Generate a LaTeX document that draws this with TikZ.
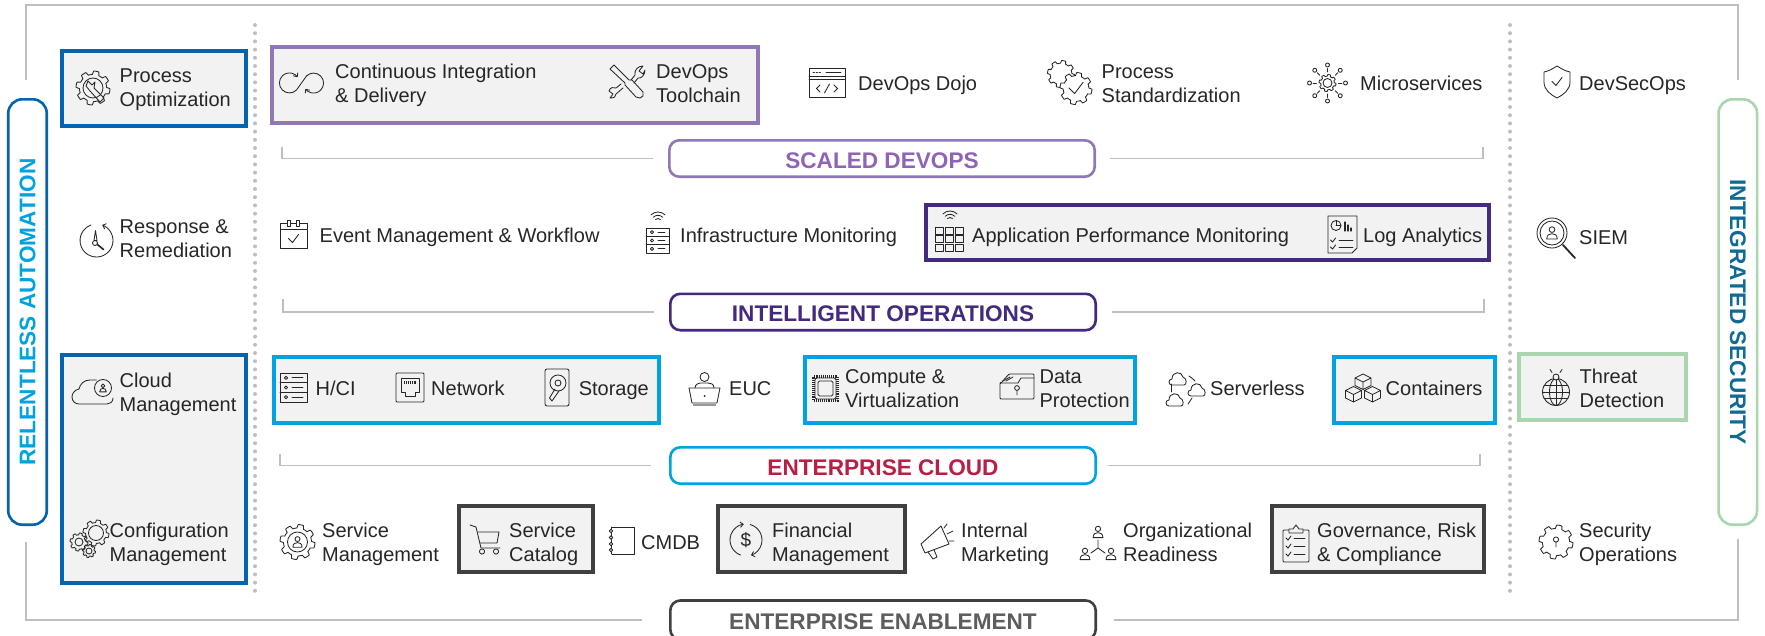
\documentclass[tikz,border=0pt]{standalone}
\usepackage{fontspec}
\setmainfont{Liberation Sans}
\usetikzlibrary{arrows.meta}
\definecolor{txt}{HTML}{262626}
\definecolor{cblue}{HTML}{0563AF}
\definecolor{ccyan}{HTML}{00A3E0}
\definecolor{cpurp}{HTML}{8F78B5}
\definecolor{cindi}{HTML}{432A7F}
\definecolor{cgreen}{HTML}{A9D5AF}
\definecolor{cdark}{HTML}{404040}
\definecolor{cgray}{HTML}{BFBFBF}
\definecolor{cbg}{HTML}{F2F2F2}
\definecolor{cred}{HTML}{B81F45}
\definecolor{cteal}{HTML}{0F6B94}
\definecolor{cpt}{HTML}{8F63B8}
\newcommand\st{\rule[-4.8pt]{0pt}{24pt}}
\tikzset{
 ic/.style={draw=txt,line width=.85pt,line join=round,line cap=round},
 ictip/.style={-{Straight Barb[length=3pt,width=5.5pt]}},
 lbl/.style={anchor=west,align=left,inner sep=0pt,text=txt,font=\fontsize{20}{24}\selectfont},
 gbox/.style={draw,line width=4pt,fill=cbg,inner sep=0pt},
 hpill/.style={draw,line width=2.6pt,rounded corners=10pt,fill=white,inner sep=0pt,minimum width=425.4pt,minimum height=36.4pt,text height=19pt,text depth=0pt,font=\fontsize{22.6}{26}\selectfont\bfseries},
 vpill/.style={draw,line width=2.6pt,rounded corners=14pt,fill=white,inner sep=0pt,minimum width=425.4pt,minimum height=38.5pt,font=\fontsize{22.6}{26}\selectfont\bfseries},
 framel/.style={draw=cgray,line width=2.2pt},
 dots/.style={draw=cgray,line width=4pt,line cap=round,dash pattern=on 0pt off 8.2pt}
}
\newcommand\gboxn[6]{\node[gbox,draw=#2,minimum width={#5-#3-4},minimum height={#6-#4-4}] (#1) at ({(#3+#5)/2},{(#4+#6)/2}) {};}
% gear outline: [style] cx cy r
\newcommand\gearic[4][]{\draw[ic,#1] plot[smooth,domain=0:360,samples=145,variable=\t] ({#2+#4*(.8+.2*min(1,max(0,1.6*sin(8*\t)+.5)))*cos(\t)},{#3+#4*(.8+.2*min(1,max(0,1.6*sin(8*\t)+.5)))*sin(\t)}) -- cycle;}
% person: cx cy s
\newcommand\persic[3]{\draw[ic] (#1,{#2-.45*#3}) circle[radius={.38*#3}];
 \draw[ic] ({#1-.7*#3},{#2+.8*#3}) .. controls ({#1-.7*#3},{#2+.2*#3}) and ({#1-.3*#3},{#2+.1*#3}) .. (#1,{#2+.1*#3}) .. controls ({#1+.3*#3},{#2+.1*#3}) and ({#1+.7*#3},{#2+.2*#3}) .. ({#1+.7*#3},{#2+.8*#3}) -- cycle;}
% server stack: x1 y1 x2 y2
\newcommand\srvic[4]{\draw[ic] (#1,#2) rectangle (#3,#4);
 \foreach \k in {0,1,2}{
  \pgfmathsetmacro\ya{#2+(#4-#2)*\k/3}\pgfmathsetmacro\ym{#2+(#4-#2)*(\k+.5)/3}
  \ifnum\k>0 \draw[ic] (#1,\ya) -- (#3,\ya);\fi
  \draw[ic] ({#1+6},\ym) circle[radius=1.6];
  \draw[ic] ({#1+12},\ym) -- ({#3-4},\ym);}}
% wifi: cx cy (base point)
\newcommand\wifiic[2]{\foreach \r in {3.5,6.7,10}{\draw[ic] ({#1+\r*cos(225)},{#2+\r*sin(225)}) arc[start angle=225,end angle=315,radius=\r];}}
\newcommand\cloudic[2]{\draw[ic] ({#1-6},{#2+6}) .. controls ({#1-10},{#2+6}) and ({#1-10},{#2}) .. ({#1-6},{#2}) .. controls ({#1-6},{#2-8}) and ({#1+4},{#2-8}) .. ({#1+5},{#2-2}) .. controls ({#1+9},{#2-1}) and ({#1+9},{#2+6}) .. ({#1+6},{#2+6}) -- cycle;}
\newcommand\cubeic[2]{\begin{scope}[shift={(#1,#2)}]\draw[ic] (0,-7.5) -- (8,-3.5) -- (8,4) -- (0,8) -- (-8,4) -- (-8,-3.5) -- cycle (-8,-3.5) -- (0,.5) -- (8,-3.5) (0,.5) -- (0,8);\end{scope}}
\newcommand\chkic[3]{\draw[ic] ({#1-#3},#2) -- ({#1-.2*#3},{#2+.8*#3}) -- ({#1+#3},{#2-.8*#3});}
\begin{document}
\begin{tikzpicture}[x=1pt,y=-1pt]
\useasboundingbox (0,0) rectangle (1765,635);
% coordinates for frame and dotted separators
\coordinate (ftl) at (26,80); \coordinate (ftr) at (1738,80);
\coordinate (ftop) at (26,4.7);
\coordinate (fbl) at (26,542); \coordinate (fbr) at (1738,539);
\coordinate (dl1) at (255,25); \coordinate (dl2) at (255,597);
\coordinate (dr1) at (1510,25); \coordinate (dr2) at (1510,597);
\draw[dots] (dl1) -- (dl2);
\draw[dots] (dr1) -- (dr2);
% grey boxes
\gboxn{bproc}{cblue}{60}{49}{248}{128}
\gboxn{bci}{cpurp}{270}{45}{760}{125}
\gboxn{bapm}{cindi}{924}{203}{1491}{262}
\gboxn{bhci}{ccyan}{272}{355}{661}{425}
\gboxn{bcloud}{cblue}{60}{353}{248}{585}
\gboxn{bcomp}{ccyan}{803}{355}{1137}{425}
\gboxn{bcont}{ccyan}{1332}{355}{1497}{425}
\gboxn{bthreat}{cgreen}{1517}{352}{1688}{422}
\gboxn{bcat}{cdark}{457}{504}{594.5}{574}
\gboxn{bfin}{cdark}{716}{504}{907}{574}
\gboxn{bgov}{cdark}{1270}{504}{1486}{574}
% pills
\node[hpill,draw=cpurp,text=cpt] (scaled) at (882,158.5) {SCALED DEVOPS};
\node[hpill,draw=cindi,text=cindi] (intel) at (883,312) {INTELLIGENT OPERATIONS};
\node[hpill,draw=ccyan,text=cred] (ecloud) at (883,465.5) {ENTERPRISE CLOUD};
\node[hpill,draw=cdark,text=cdark!85,minimum height=39pt] (enable) at (883,620) {ENTERPRISE ENABLEMENT};
\node[vpill,draw=cblue,text=ccyan,rotate=90] (relent) at (27.5,312) {RELENTLESS AUTOMATION};
\node[vpill,draw=cgreen,text=cteal,rotate=-90] (integ) at (1737.8,312) {INTEGRATED SECURITY};
% frame
\draw[framel] (ftl) |- (ftop -| ftr) -- (ftr);
\draw[framel] ([xshift=-27]enable.west) -| (fbl);
\draw[framel] ([xshift=17]enable.east) -| (fbr);
% brackets
\coordinate (b1l) at (281.6,147); \coordinate (b1r) at (1483,147);
\coordinate (b2l) at (283,299); \coordinate (b2r) at (1484,299);
\coordinate (b3l) at (280,454); \coordinate (b3r) at (1480,454);
\draw[framel,line width=1.8pt] ([xshift=-15]scaled.west) -| (b1l);
\draw[framel,line width=1.8pt] ([xshift=14]scaled.east) -| (b1r);
\draw[framel,line width=1.8pt] ([xshift=-15]intel.west) -| (b2l);
\draw[framel,line width=1.8pt] ([xshift=15]intel.east) -| (b2r);
\draw[framel,line width=1.8pt] ([xshift=-18]ecloud.west) -| (b3l);
\draw[framel,line width=1.8pt] ([xshift=11]ecloud.east) -| (b3r);
% labels
\node[lbl] (t1) at (119.5,87) {\st Process\\\st Optimization};
\node[lbl] (t2) at (335,83) {\st Continuous Integration\\\st \& Delivery};
\node[lbl] (t3) at (656,83) {\st DevOps\\\st Toolchain};
\node[lbl] (t4) at (858,83) {\st DevOps Dojo};
\node[lbl] (t5) at (1101.5,83) {\st Process\\\st Standardization};
\node[lbl] (t6) at (1360,83) {\st Microservices};
\node[lbl] (t7) at (1579,83) {\st DevSecOps};
\node[lbl] (t8) at (119.5,238) {\st Response \&\\\st Remediation};
\node[lbl] (t9) at (319.5,235) {\st Event Management \& Workflow};
\node[lbl] (t10) at (680,235) {\st Infrastructure Monitoring};
\node[lbl] (t11) at (972,235) {\st Application Performance Monitoring};
\node[lbl] (t12) at (1363,235) {\st Log Analytics};
\node[lbl] (t13) at (1579,237) {\st SIEM};
\node[lbl] (t14) at (119.5,392) {\st Cloud\\\st Management};
\node[lbl] (t15) at (315.5,388) {\st H/CI};
\node[lbl] (t16) at (431,388) {\st Network};
\node[lbl] (t17) at (578.6,388) {\st Storage};
\node[lbl] (t18) at (729,388) {\st EUC};
\node[lbl] (t19) at (845,388) {\st Compute \&\\\st Virtualization};
\node[lbl] (t20) at (1039.4,388) {\st Data\\\st Protection};
\node[lbl] (t21) at (1210,388) {\st Serverless};
\node[lbl] (t22) at (1385.5,388) {\st Containers};
\node[lbl] (t23) at (1579.5,388) {\st Threat\\\st Detection};
\node[lbl] (t24) at (109.5,542) {\st Configuration\\\st Management};
\node[lbl] (t25) at (322,542) {\st Service\\\st Management};
\node[lbl] (t26) at (509,542) {\st Service\\\st Catalog};
\node[lbl] (t27) at (641,542) {\st CMDB};
\node[lbl] (t28) at (772,542) {\st Financial\\\st Management};
\node[lbl] (t29) at (961,542) {\st Internal\\\st Marketing};
\node[lbl] (t30) at (1123,542) {\st Organizational\\\st Readiness};
\node[lbl] (t31) at (1317,542) {\st Governance, Risk\\\st \& Compliance};
\node[lbl] (t32) at (1579,542) {\st Security\\\st Operations};
% ---- icons ----
% process optimization
\gearic{93}{88}{17}
\draw[ic] (93,88) circle[radius=10];
\draw[ic] (88,81) -- (86,86) -- (90,91) -- (100,102) -- (104,98) -- (94,88) -- (95,82) -- (92,85) -- cycle;
% CI infinity
\begin{scope}[shift={(301.5,83)}]
\draw[ic,ictip] (5,-7) -- (-5,7) arc[start angle=45,end angle=325,radius=10];
\draw[ic,ictip] (5,-7) arc[start angle=225,end angle=505,radius=10];
\end{scope}
% tools
\begin{scope}[shift={(627,82)}]
\draw[ic] (-17,-13) -- (-13,-17) -- (2,-2) -- (5,-2) -- (16,10) -- (16,14) -- (13,16) -- (9,15) -- (-2,3) -- (-2,1) -- cycle;
\draw[ic] (-4,6) -- (-11,12) .. controls (-11,15) and (-13,16) .. (-17,16) -- (-14,12) -- (-18,9) .. controls (-17,5) and (-13,5) .. (-11,6) -- (-6,2);
\draw[ic] (4,-2) -- (8,-7) .. controls (7,-12) and (11,-16) .. (16,-16) -- (12,-11) -- (16,-8) -- (18,-12) .. controls (18,-7) and (14,-3) .. (11,-4) -- (7,1);
\end{scope}
% dojo
\draw[ic] (809,68) rectangle (845,97);
\draw[ic] (809,76) -- (845,76) (809,79) -- (845,79);
\draw[ic,dash pattern=on 1.5pt off 1.5pt] (813,72) -- (821,72);
\draw[ic] (826,72) -- (841,72);
\draw[ic] (820,85) -- (816.5,88.5) -- (820,92) (834,85) -- (837.5,88.5) -- (834,92) (829.5,84) -- (824.5,93);
% process standardization
\gearic{1061}{74}{13.5}
\gearic[fill=white]{1076}{88.5}{16}
\chkic{1076}{88}{7}
% microservices
\gearic{1327.5}{83}{8.5}
\draw[ic] (1327.5,83) circle[radius=4.5];
\foreach \a in {0,45,...,315}{
 \draw[ic,line width=.8pt] ({1327.5+11*cos(\a)},{83+11*sin(\a)}) -- ({1327.5+14.5*cos(\a)},{83+14.5*sin(\a)});
 \draw[ic] ({1327.5+18*cos(\a)},{83+18*sin(\a)}) circle[radius=2];}
% shield
\draw[ic] (1557,66) .. controls (1552,69) and (1549,71) .. (1544,72) -- (1544,82) .. controls (1544,90) and (1551,95) .. (1557,98) .. controls (1563,95) and (1570,90) .. (1570,82) -- (1570,72) .. controls (1565,71) and (1562,69) .. (1557,66) -- cycle;
\chkic{1557}{81.5}{5}
% response clock
\begin{scope}[shift={(96.5,240.5)}]
\draw[ic] ({16.5*cos(-25)},{16.5*sin(-25)}) arc[start angle=-25,end angle=250,radius=16.5];
\draw[ic,ictip] ({16.5*cos(-25)},{16.5*sin(-25)}) arc[start angle=-25,end angle=-70,radius=16.5];
\draw[ic] (-1,-10) -- (-2.5,0) -- (.5,0) -- cycle;
\draw[ic] (-1.5,2.5) circle[radius=2.5];
\draw[ic,line width=1.6pt] (1,4) -- (7,9);
\end{scope}
% calendar
\draw[ic] (280,229) rectangle (307,248);
\draw[ic] (280,229) -- (280,223) -- (287,223) (291,223) -- (296,223) (300,223) -- (307,223) -- (307,229);
\draw[ic] (287.5,220) rectangle (290.5,226) (296.5,220) rectangle (299.5,226);
\chkic{293.5}{238.5}{5}
% infrastructure
\wifiic{658}{222}
\srvic{646}{228}{669}{253}
% APM
\wifiic{950}{221}
\foreach \ci in {0,1,2}\foreach \cj in {0,1,2}{\draw[ic] ({935+\ci*10},{227+\cj*8.6}) rectangle ({943+\ci*10},{234+\cj*8.6});}
% log analytics
\draw[ic] (1328,216) -- (1357,216) -- (1357,248) -- (1352,253) -- (1328,253) -- cycle;
\draw[ic] (1336,225.5) circle[radius=5];
\draw[ic] (1336,225.5) -- (1336,220.5) (1336,225.5) -- (1341,225.5);
\draw[ic,line width=1.2pt] (1345,231) -- (1345,222) (1348,231) -- (1348,225) (1351,231) -- (1351,228);
\chkic{1333}{240}{2.6}
\chkic{1333}{247}{2.6}
\draw[ic] (1339,240) -- (1353,240) (1339,247) -- (1353,247);
% SIEM
\draw[ic] (1552,233) circle[radius=15] (1552,233) circle[radius=12];
\persic{1552}{233}{7.5}
\draw[ic,line width=1.8pt] (1563,245) -- (1575,258);
% cloud management
\draw[ic] (96.5,380) -- (90,380) .. controls (84,380) and (80,384) .. (79,389) .. controls (74,390) and (72,394) .. (72,397) .. controls (72,401) and (75,404) .. (79,404) -- (107,404) .. controls (110,404) and (113,402) .. (113,398);
\draw[ic] (103,388) circle[radius=8.5];
\persic{103}{388}{4.8}
% HCI
\srvic{280}{373}{307}{402}
% network
\draw[ic,rounded corners=1pt] (396,373) rectangle (424,402);
\draw[ic] (401,378) -- (419,378) -- (419,392) -- (415,392) -- (415,396) -- (405,396) -- (405,392) -- (401,392) -- cycle;
\draw[ic,line width=2.6pt,line cap=butt,dash pattern=on .9pt off 1pt] (404,382.5) -- (416,382.5);
% storage
\draw[ic,rounded corners=2pt] (545,369) rectangle (569,406);
\draw[ic] (558,383) circle[radius=8] (558,383) circle[radius=3];
\draw[ic] (559,391) -- (552,401) (555,389) -- (549.5,398) -- (552,401);
% EUC
\draw[ic] (704.5,377) circle[radius=4.5];
\draw[ic] (695,388) .. controls (695,384) and (699,383) .. (701,383) -- (708,383) .. controls (711,383) and (714,384) .. (714,388);
\draw[ic] (689,388) -- (720,388) -- (717,403) -- (692,403) -- cycle;
\fill[txt] (704.5,396) circle[radius=1];
\draw[draw=cgray!80!black,line width=2pt] (693,405) -- (716,405);
% compute
\draw[draw=txt,line width=2.6pt,dash pattern=on .9pt off 1pt] (813.5,376.5) rectangle (837.5,400.5);
\draw[ic,fill=cbg,rounded corners=2pt] (815,378) rectangle (836,399);
\draw[ic,rounded corners=1.5pt] (818,381) rectangle (833,396);
% data protection
\draw[ic,rounded corners=1pt] (1001,383) -- (1009,374) -- (1034,374) -- (1034,399) -- (1000,399) -- (1000,383) -- cycle;
\draw[ic,line width=.8pt] (1003,381) -- (1010,377) (1006,381) -- (1013,377) (1001,383) -- (1018,383) -- (1021,378) -- (1034,378);
\draw[ic] (1017,388) circle[radius=2.4] (1017,390.4) -- (1017,395);
% serverless
\cloudic{1178}{379}
\cloudic{1197}{390}
\cloudic{1175}{400}
\draw[ic] (1189,376) .. controls (1192,378) and (1194,380) .. (1195,381);
\draw[ic] (1171,384) -- (1171,392);
\draw[ic] (1192,398) -- (1188,404);
% containers
\cubeic{1363}{381.5}
\cubeic{1353.5}{394}
\cubeic{1372.5}{394}
% threat
\draw[ic] (1556,392) circle[radius=13.5];
\draw[ic] (1556,392) ellipse[x radius=6.5,y radius=13.5];
\draw[ic] (1556,378.5) -- (1556,405.5) (1542.5,392) -- (1569.5,392) (1544,385.5) -- (1568,385.5) (1544,398.5) -- (1568,398.5);
\draw[ic,fill=cbg] (1556,377) circle[radius=3];
\draw[ic] (1550,369.5) -- (1552,372.5) (1562,369.5) -- (1560,372.5);
% config gears
\gearic{96}{533}{13}
\draw[ic] (96,533) circle[radius=7.5];
\gearic{79}{542}{9}
\draw[ic] (79,542) circle[radius=4];
\gearic{89}{551}{6.5}
\draw[ic] (89,551) circle[radius=3];
% service mgmt
\gearic{297.5}{542}{17.5}
\draw[ic] (297.5,542) circle[radius=10];
\persic{297.5}{542}{6.5}
% cart
\draw[ic] (470,525) -- (476,527) -- (481,548) -- (500,548);
\draw[ic] (478,532) -- (499,532) -- (497,543) -- (480,543);
\draw[ic] (482,551.5) circle[radius=2.6] (496,551.5) circle[radius=2.6];
% cmdb
\draw[ic] (612,527) -- (634,527) -- (634,554) -- (612,554);
\draw[ic,line width=.8pt] (611,527) -- (611,554);
\foreach \yy in {531,537.5,544,550}{\draw[ic,fill=white] (611,\yy) circle[radius=1.8];}
% financial
\draw[ic,ictip] ({746+16*cos(110)},{540+16*sin(110)}) arc[start angle=110,end angle=262,radius=16];
\draw[ic,ictip] ({746+16*cos(-75)},{540+16*sin(-75)}) arc[start angle=-75,end angle=72,radius=16];
\node[inner sep=0pt,text=txt,font=\fontsize{19}{20}\selectfont] (dollar) at (746,540) {\$};
% megaphone
\draw[ic] (921,544) -- (941,526) -- (949,544) -- (925,553) -- cycle;
\draw[ic] (928,552) -- (933,559) -- (937,557) -- (934,550);
\draw[ic] (944,528) -- (947,524) (947,534) -- (953,531) (949,541) -- (954,541);
% organizational
\persic{1098}{532}{7}
\persic{1085}{554}{7}
\persic{1111}{554}{7}
\draw[ic] (1098,540) -- (1098,548) -- (1091,553) (1098,548) -- (1105,553);
% governance
\draw[ic,rounded corners=1pt] (1283,530) rectangle (1309,562);
\draw[ic,fill=cbg] (1289,533) -- (1289,529) -- (1293,529) -- (1296,525) -- (1299,529) -- (1303,529) -- (1303,533) -- cycle;
\foreach \yy in {538,546,554}{\chkic{1288.5}{\yy}{2.6}\draw[ic] (1294,\yy) -- (1305,\yy);}
% security ops
\gearic{1556}{542}{17}
\draw[ic] (1556,539.5) circle[radius=2.6] (1556,542) -- (1556,547);
\end{tikzpicture}
\end{document}
